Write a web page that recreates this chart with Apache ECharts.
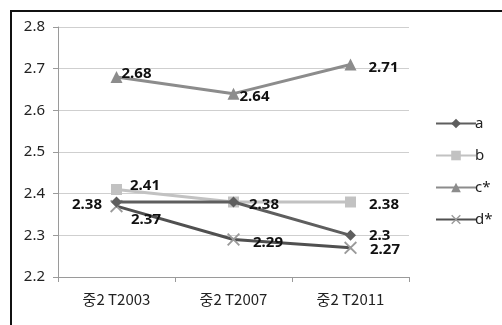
<!DOCTYPE html>
<html>
<head>
<meta charset="utf-8">
<script src="https://cdn.jsdelivr.net/npm/echarts@6/dist/echarts.min.js"></script>
<style>
  html, body { margin: 0; padding: 0; background: #fff; }
  #chart { width: 502px; height: 325px; }
</style>
</head>
<body>
<div id="chart"></div>
<script>
// Survey waves on the x axis
const categories = ['중2 T2003', '중2 T2007', '중2 T2011'];
// Mean scores per group
const seriesA = [2.38, 2.38, 2.3];
const seriesB = [2.41, 2.38, 2.38];
const seriesC = [2.68, 2.64, 2.71];
const seriesD = [2.37, 2.29, 2.27];
const seriesNames = ['a', 'b', 'c*', 'd*'];
// Y axis range
const yMin = 2.2, yMax = 2.8, yStep = 0.1;

const crossPath = 'path://M0,1L1,0L5,4L9,0L10,1L6,5L10,9L9,10L5,6L1,10L0,9L4,5Z';
const labelFont = { fontFamily: 'Noto Sans, sans-serif', fontSize: 15, fontWeight: 'bold', color: '#111' };

// per-point label placement: [position, offsetX, offsetY, visible]
function withLabels(values, places) {
  return values.map((v, i) => {
    const p = places[i];
    return {
      value: v,
      label: {
        show: p[3] !== false,
        position: p[0],
        distance: 2,
        offset: [p[1], p[2]],
        ...labelFont
      }
    };
  });
}

const chart = echarts.init(document.getElementById('chart'), null, { renderer: 'canvas' });
chart.setOption({
  animation: false,
  // outer chart frame: top and left edges
  graphic: [
    { type: 'polyline', silent: true, shape: { points: [[11, 330], [11, 11], [510, 11]] },
      style: { stroke: '#111', lineWidth: 2, fill: null } }
  ],
  grid: { left: 58, right: 93, top: 27, bottom: 48 },
  legend: {
    orient: 'vertical',
    left: 430,
    top: 111,
    itemWidth: 40,
    itemHeight: 12,
    itemGap: 17,
    textStyle: { fontFamily: 'Noto Sans, sans-serif', fontSize: 15, lineHeight: 13, color: '#222', padding: [0, 0, 0, -6] },
    data: seriesNames
  },
  xAxis: {
    type: 'category',
    data: categories,
    boundaryGap: true,
    axisLine: { lineStyle: { color: '#9a9a9a', width: 1 } },
    axisTick: { show: true, length: 5, lineStyle: { color: '#9a9a9a' } },
    axisLabel: { color: '#222', fontSize: 15, margin: 15, fontFamily: 'Noto Sans CJK KR, Noto Sans, sans-serif' }
  },
  yAxis: {
    type: 'value',
    min: yMin,
    max: yMax,
    interval: yStep,
    axisLine: { show: true, lineStyle: { color: '#9a9a9a' } },
    axisTick: { show: true, length: 5, lineStyle: { color: '#9a9a9a' } },
    axisLabel: { color: '#222', fontSize: 15, margin: 13, fontFamily: 'Noto Sans, sans-serif',
                 formatter: v => v.toFixed(1) },
    splitLine: { lineStyle: { color: '#cfcfcf', width: 1 } }
  },
  series: [
    {
      name: seriesNames[0], type: 'line', z: 4,
      symbol: 'diamond', symbolSize: 11,
      lineStyle: { color: '#5e5e5e', width: 3 },
      itemStyle: { color: '#5e5e5e' },
      data: withLabels(seriesA, [['left', -7, 3], ['right', 8, 3], ['right', 11, 0]])
    },
    {
      name: seriesNames[1], type: 'line', z: 2,
      symbol: 'rect', symbolSize: 11,
      lineStyle: { color: '#c2c2c2', width: 3 },
      itemStyle: { color: '#c2c2c2' },
      data: withLabels(seriesB, [['right', 6, -4], ['right', 8, 3, false], ['right', 11, 3]])
    },
    {
      name: seriesNames[2], type: 'line', z: 3,
      symbol: 'triangle', symbolSize: 12,
      lineStyle: { color: '#8c8c8c', width: 3 },
      itemStyle: { color: '#8c8c8c' },
      data: withLabels(seriesC, [['right', -3, -3], ['right', -2, 3], ['right', 10, 3]])
    },
    {
      name: seriesNames[3], type: 'line', z: 3,
      symbol: crossPath, symbolSize: 13,
      lineStyle: { color: '#505050', width: 3 },
      itemStyle: { color: '#9a9a9a' },
      data: withLabels(seriesD, [['right', 6, 14], ['right', 11, 3], ['right', 11, 2]])
    }
  ]
});
</script>
</body>
</html>
